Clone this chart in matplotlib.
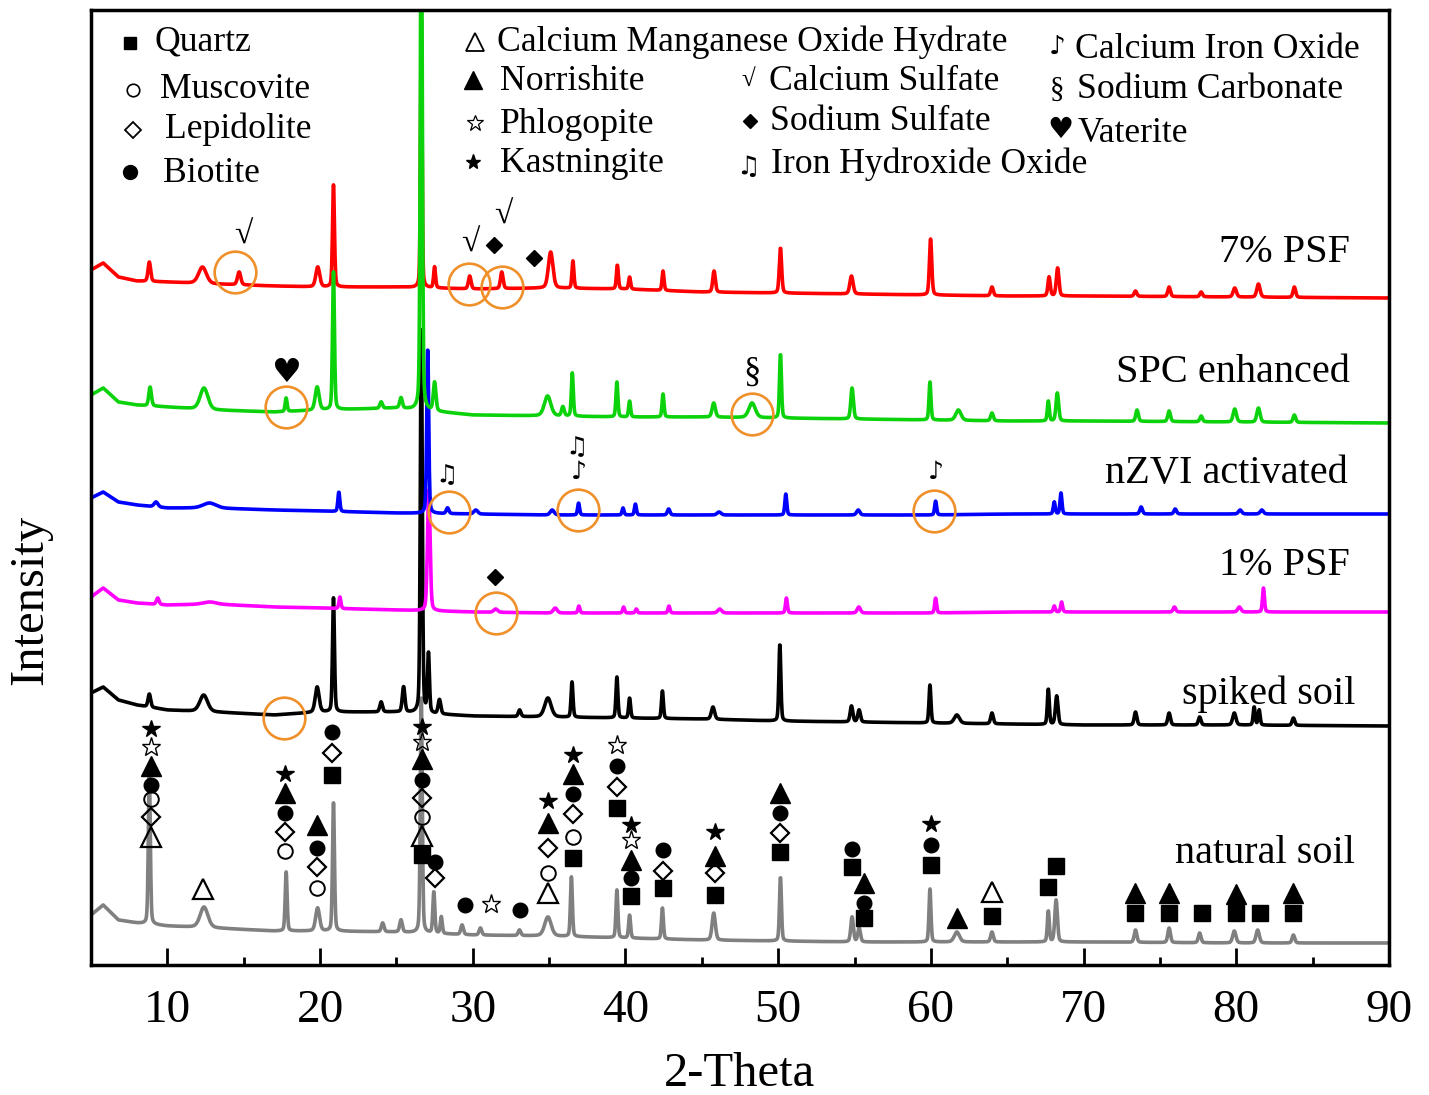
"""XRD patterns of the soil samples with phase identification marks"""
import numpy as np
import matplotlib
matplotlib.use("Agg")
import matplotlib.pyplot as plt

plt.rcParams["font.family"] = ["Liberation Serif", "DejaVu Sans"]

W, H = 1429, 1095

# background anchors (2-theta) shared by every pattern
BG_X = [5, 5.8, 6.8, 8, 10, 13, 17, 20, 25, 30, 35, 40, 45, 50, 55, 60, 65, 70, 80, 90]

# 7% PSF
BG_PSF7 = [695, 702, 688, 684, 683, 681, 679, 678, 678, 676, 677, 676, 673, 672, 671, 670, 669, 669, 668, 667]
PK_PSF7 = [8.82, 12.3, 14.7, 19.85, 20.88, 26.63, 27.5, 29.8, 31.9, 35.1, 36.56, 39.47, 40.27, 42.46,
           45.8, 50.15, 54.8, 59.98, 64.0, 67.74, 68.3, 73.4, 75.6, 77.7, 79.9, 81.45, 83.8]
TOP_PSF7 = [703, 698, 693, 698, 780, 950, 698, 689, 693, 713, 704, 700, 688, 694,
            694, 717, 689, 726, 678, 688, 697, 674, 678, 673, 677, 681, 678]
FW_PSF7 = [0.2, 0.6, 0.25, 0.3, 0.15, 0.12, 0.15, 0.2, 0.2, 0.35, 0.15, 0.15, 0.15, 0.15,
           0.2, 0.18, 0.25, 0.18, 0.2, 0.18, 0.2, 0.2, 0.2, 0.2, 0.25, 0.25, 0.2]

# SPC enhanced
BG_SPC = [570, 577, 563, 560, 558, 555, 553, 555, 557, 550, 549, 548, 548, 547, 546, 545, 544, 544, 543, 542]
PK_SPC = [8.87, 12.4, 17.78, 19.81, 20.88, 24.0, 25.3, 26.63, 27.5, 34.9, 35.9, 36.52, 39.44, 40.27, 42.46,
          45.78, 48.29, 50.15, 54.84, 59.94, 61.8, 64.0, 67.69, 68.28, 73.5, 75.6, 77.7, 79.9, 81.45, 83.8]
TOP_SPC = [578, 577, 567, 578, 693, 563, 567, 1100, 582, 569, 558, 592, 583, 564, 571,
           562, 562, 611, 577, 583, 555, 552, 564, 572, 555, 554, 549, 556, 557, 550]
FW_SPC = [0.2, 0.6, 0.15, 0.3, 0.15, 0.2, 0.2, 0.15, 0.2, 0.5, 0.2, 0.15, 0.15, 0.15, 0.15,
          0.25, 0.5, 0.15, 0.2, 0.15, 0.4, 0.2, 0.15, 0.2, 0.2, 0.2, 0.2, 0.25, 0.25, 0.2]

# nZVI activated
BG_NZVI = [467, 473, 463, 460, 457, 457, 455, 454, 452, 451, 450, 450, 450, 450, 450, 450, 451, 451, 451, 451]
PK_NZVI = [9.26, 12.75, 21.23, 27.05, 28.35, 30.2, 35.2, 36.93, 39.84, 40.65, 42.83,
           46.13, 50.5, 55.24, 60.31, 68.08, 68.52, 73.77, 76.0, 80.25, 81.67]
TOP_NZVI = [463, 462, 473, 617, 457, 455, 455, 462, 457, 461, 456,
            453, 471, 455, 464, 463, 472, 458, 456, 455, 455]
FW_NZVI = [0.3, 1.0, 0.15, 0.15, 0.2, 0.3, 0.3, 0.15, 0.15, 0.15, 0.2,
           0.3, 0.15, 0.25, 0.15, 0.15, 0.15, 0.2, 0.2, 0.25, 0.25]

# 1% PSF
BG_PSF1 = [368, 377, 365, 362, 360, 361, 358, 357, 355, 353, 352, 352, 352, 352, 352, 352, 353, 353, 353, 353]
PK_PSF1 = [9.37, 12.75, 21.3, 27.12, 31.5, 35.4, 36.95, 39.88, 40.71, 42.85,
           46.17, 50.54, 55.28, 60.31, 68.08, 68.56, 75.95, 80.2, 81.78]
TOP_PSF1 = [367, 363, 368, 475, 356, 357, 359, 358, 356, 359,
            356, 367, 358, 367, 359, 363, 358, 358, 377]
FW_PSF1 = [0.2, 1.0, 0.15, 0.2, 0.3, 0.3, 0.15, 0.15, 0.15, 0.15,
           0.3, 0.15, 0.25, 0.15, 0.15, 0.15, 0.2, 0.25, 0.15]

# spiked soil
BG_SPIKED = [272, 278, 265, 260, 255, 253, 250, 253, 253, 249, 248, 247, 246, 244, 243, 242, 241, 240, 240, 239]
PK_SPIKED = [8.82, 12.38, 19.81, 20.88, 24.0, 25.47, 26.63, 27.1, 27.82, 33.07, 34.92, 36.5, 39.44, 40.27, 42.42,
             45.73, 50.11, 54.8, 55.3, 59.94, 61.7, 64.0, 67.69, 68.24, 73.4, 75.6, 77.6, 79.87, 81.17, 81.5, 83.74]
TOP_SPIKED = [271, 270, 278, 367, 263, 278, 640, 310, 265, 255, 267, 283, 288, 267, 274,
              258, 321, 259, 255, 280, 250, 252, 276, 269, 253, 252, 248, 252, 258, 255, 247]
FW_SPIKED = [0.2, 0.6, 0.3, 0.15, 0.2, 0.2, 0.15, 0.15, 0.2, 0.2, 0.5, 0.15, 0.15, 0.15, 0.15,
             0.25, 0.15, 0.2, 0.2, 0.15, 0.4, 0.2, 0.15, 0.2, 0.2, 0.2, 0.2, 0.25, 0.15, 0.15, 0.2]

# natural soil
BG_NATURAL = [50, 60, 45, 42, 39, 37, 34, 34, 33, 30, 29, 27, 25, 24, 23, 23, 23, 23, 22, 22]
PK_NATURAL = [8.82, 12.4, 17.78, 19.84, 20.88, 24.1, 25.3, 26.63, 27.45, 27.94, 29.3, 30.5, 33.06, 34.92, 36.46,
              39.44, 40.27, 42.42, 45.78, 50.15, 54.84, 55.3, 59.94, 61.7, 64.0, 67.69, 68.2, 73.4, 75.6, 77.6,
              79.87, 81.4, 83.74]
TOP_NATURAL = [195, 58, 93, 57, 162, 42, 45, 270, 73, 48, 40, 37, 35, 48, 88,
               75, 50, 57, 52, 88, 48, 37, 76, 33, 33, 54, 65, 35, 37, 32,
               34, 35, 30]
FW_NATURAL = [0.15, 0.6, 0.15, 0.3, 0.15, 0.2, 0.2, 0.15, 0.15, 0.15, 0.2, 0.2, 0.2, 0.5, 0.15,
              0.15, 0.15, 0.15, 0.25, 0.15, 0.2, 0.2, 0.15, 0.4, 0.2, 0.15, 0.2, 0.2, 0.2, 0.2,
              0.25, 0.25, 0.2]

# phase marks above the natural soil pattern (2-theta, height)
QUARTZ = [(20.79, 190), (26.66, 110), (36.56, 107), (39.44, 157), (40.39, 69), (42.46, 77), (45.85, 70),
          (50.15, 113), (54.84, 98), (55.61, 47), (59.98, 100), (64.02, 49), (67.65, 78), (68.17, 99),
          (73.37, 52), (75.62, 52), (77.78, 52), (79.98, 52), (81.56, 52), (83.74, 52)]
MUSCOVITE = [(8.9, 166), (17.73, 114), (19.81, 77), (26.66, 148), (34.92, 92), (36.56, 128)]
LEPIDOLITE = [(8.9, 148), (17.73, 133), (19.81, 98), (20.79, 212), (26.66, 167), (27.5, 87), (34.92, 117),
              (36.56, 151), (39.44, 178), (42.46, 94), (45.85, 92), (50.15, 132)]
BIOTITE = [(8.9, 180), (17.73, 152), (19.81, 117), (20.79, 233), (26.66, 185), (27.5, 103), (29.46, 60),
           (33.07, 55), (36.56, 171), (39.44, 199), (40.39, 87), (42.46, 115), (50.15, 152), (54.84, 116),
           (55.61, 62), (59.98, 120)]
CA_MN_OXIDE = [(8.9, 128), (12.36, 76), (26.66, 129), (34.92, 72), (64.02, 73)]
NORRISHITE = [(8.9, 199), (17.73, 172), (19.81, 140), (26.66, 206), (34.92, 142), (36.56, 191), (40.39, 105),
              (45.85, 109), (50.15, 172), (55.61, 82), (61.72, 47), (73.37, 72), (75.62, 72), (79.98, 71),
              (83.74, 72)]
PHLOGOPITE = [(8.9, 218), (26.66, 223), (31.2, 61), (39.44, 220), (40.39, 125)]
KASTNINGITE = [(8.9, 236), (17.73, 191), (26.66, 238), (34.92, 164), (36.56, 210), (40.39, 140),
               (45.85, 133), (59.98, 141)]

# new phases flagged on the treated samples: circled peak and symbol above it
CIRCLES = [(14.46, 693), (29.76, 681), (31.89, 678), (17.78, 558), (48.29, 551),
           (28.43, 453), (36.89, 455), (60.22, 454), (31.5, 352), (17.67, 247)]
SULFATE_CA = [(14.98, 730), (29.86, 722), (31.99, 750)]
SULFATE_NA = [(31.36, 720), (33.98, 707), (31.43, 388)]
VATERITE = [(17.78, 593)]
CARBONATE_NA = [(48.29, 593)]
FE_HYDROXIDE = [(28.26, 490), (36.82, 518)]
CA_FE_OXIDE = [(36.95, 493), (60.31, 493)]

SAMPLES = ["natural soil", "spiked soil", "1% PSF", "nZVI activated", "7% PSF", "SPC enhanced"]
LEGEND_NAMES = ["Quartz", "Muscovite", "Lepidolite", "Biotite",
                "Calcium Manganese Oxide Hydrate", "Norrishite", "Phlogopite", "Kastningite",
                "Calcium Sulfate", "Sodium Sulfate", "Iron Hydroxide Oxide",
                "Calcium Iron Oxide", "Sodium Carbonate", "Vaterite"]

TWO_THETA = np.linspace(5, 90, 4251)


def pattern(bg, pos, top, fw):
    y = np.interp(TWO_THETA, BG_X, bg)
    for x0, t, w in zip(pos, top, fw):
        h = t - np.interp(x0, BG_X, bg)
        d = (TWO_THETA - x0) / (w / 2)
        y = y + h * (0.7 * np.exp(-np.log(2) * d ** 2) + 0.3 / (1 + d ** 2))
    return y


def fx(px):
    return px / W


def fy(py):
    return 1 - py / H


fig = plt.figure(figsize=(W / 100, H / 100), dpi=100)
ax = fig.add_axes([fx(91), fy(965), fx(1389) - fx(91), fy(10) - fy(965)])

series = [
    (BG_NATURAL, PK_NATURAL, TOP_NATURAL, FW_NATURAL, "#808080"),
    (BG_SPIKED, PK_SPIKED, TOP_SPIKED, FW_SPIKED, "black"),
    (BG_PSF1, PK_PSF1, TOP_PSF1, FW_PSF1, "#FF00FF"),
    (BG_NZVI, PK_NZVI, TOP_NZVI, FW_NZVI, "#0000FF"),
    (BG_PSF7, PK_PSF7, TOP_PSF7, FW_PSF7, "#FF0000"),
    (BG_SPC, PK_SPC, TOP_SPC, FW_SPC, "#0CD20C"),
]
for i, (bg, pos, top, fw, col) in enumerate(series):
    ax.plot(TWO_THETA, pattern(bg, pos, top, fw), color=col, lw=2.6, zorder=2 + i * 0.1)

# phase marks
mark_style = [
    (QUARTZ, dict(marker="s", ms=11, color="black")),
    (MUSCOVITE, dict(marker="o", ms=10.5, mfc="none", mec="black", mew=1.4)),
    (LEPIDOLITE, dict(marker="D", ms=9, mfc="none", mec="black", mew=1.6)),
    (BIOTITE, dict(marker="o", ms=10.5, color="black")),
    (CA_MN_OXIDE, dict(marker="^", ms=14, mfc="none", mec="black", mew=1.6)),
    (NORRISHITE, dict(marker="^", ms=14, color="black")),
    (PHLOGOPITE, dict(marker="*", ms=14, mfc="none", mec="black", mew=1.0)),
    (KASTNINGITE, dict(marker="*", ms=13, color="black")),
]
for pts, kw in mark_style:
    xs, ys = zip(*pts)
    ax.plot(xs, ys, ls="none", zorder=5, **kw)

cx, cy = zip(*CIRCLES)
ax.plot(cx, cy, ls="none", marker="o", ms=30, mfc="none", mec="#F0902A", mew=1.9, zorder=6)
for x, y in SULFATE_CA:
    ax.text(x, y, "\u221a", fontsize=24, ha="center", va="center", zorder=6)
sx, sy = zip(*SULFATE_NA)
ax.plot(sx, sy, ls="none", marker="D", ms=8.5, color="black", zorder=6)
for x, y in VATERITE:
    ax.text(x, y, "\u2665", fontsize=24, family="DejaVu Sans", ha="center", va="center", zorder=6)
for x, y in CARBONATE_NA:
    ax.text(x, y, "\u00a7", fontsize=25, ha="center", va="center", zorder=6)
for x, y in FE_HYDROXIDE:
    ax.text(x, y, "\u266b", fontsize=18, family="DejaVu Sans", ha="center", va="center", zorder=6)
for x, y in CA_FE_OXIDE:
    ax.text(x, y, "\u266a", fontsize=18, family="DejaVu Sans", ha="center", va="center", zorder=6)

# sample names at the right end of each pattern
label_pos = [(87.79, 102), (87.79, 261), (87.46, 390), (87.33, 482), (87.46, 703), (87.46, 583)]
for name, (x, y) in zip(SAMPLES, label_pos):
    ax.text(x, y, name, fontsize=29, ha="right", va="baseline", zorder=7)

ax.set_xlim(5, 90)
ax.set_ylim(0, 955)
ax.set_xticks(range(10, 91, 10))
ax.set_xticks(range(5, 90, 10), minor=True)
ax.set_yticks([])
ax.tick_params(axis="x", which="major", direction="in", length=12, width=2,
               labelsize=34, pad=18)
ax.tick_params(axis="x", which="minor", direction="in", length=6, width=2)
for sp in ax.spines.values():
    sp.set_linewidth(2.5)
ax.set_xlabel("2-Theta", fontsize=35, labelpad=14)
fig.text(fx(30), fy(600), "Intensity", fontsize=35, rotation=90, ha="center", va="center")

# symbol key at the top of the frame
key_text = [(155, 51), (160, 98), (165, 138), (163, 182),
            (497, 51), (500, 90), (500, 133), (500, 172),
            (769, 90), (770, 130), (771, 173),
            (1075, 58), (1077, 98), (1078, 142)]
for name, (px, py) in zip(LEGEND_NAMES, key_text):
    fig.text(fx(px), fy(py), name, fontsize=25.7, ha="left", va="baseline")

key_marks = [
    ((130, 43), dict(marker="s", ms=8, color="black")),
    ((133, 90), dict(marker="o", ms=9, mfc="none", mec="black", mew=1.2)),
    ((133, 130), dict(marker="D", ms=8, mfc="none", mec="black", mew=1.3)),
    ((130, 172), dict(marker="o", ms=10, color="black")),
    ((475, 42), dict(marker="^", ms=12.5, mfc="none", mec="black", mew=1.3)),
    ((473, 80), dict(marker="^", ms=12.5, color="black")),
    ((475, 123), dict(marker="*", ms=12, mfc="none", mec="black", mew=0.9)),
    ((473, 162), dict(marker="*", ms=11, color="black")),
    ((750, 121), dict(marker="D", ms=7.5, color="black")),
]
for (px, py), kw in key_marks:
    ax.plot([fx(px)], [fy(py)], transform=fig.transFigure, clip_on=False, ls="none", **kw)

fig.text(fx(748), fy(80), "\u221a", fontsize=18, ha="center", va="center")
fig.text(fx(748), fy(167), "\u266b", fontsize=19, family="DejaVu Sans", ha="center", va="center")
fig.text(fx(1057), fy(48), "\u266a", fontsize=19, family="DejaVu Sans", ha="center", va="center")
fig.text(fx(1057), fy(90), "\u00a7", fontsize=21, ha="center", va="center")
fig.text(fx(1060), fy(130), "\u2665", fontsize=21, family="DejaVu Sans", ha="center", va="center")

fig.savefig("out.png", dpi=100)
plt.close(fig)
